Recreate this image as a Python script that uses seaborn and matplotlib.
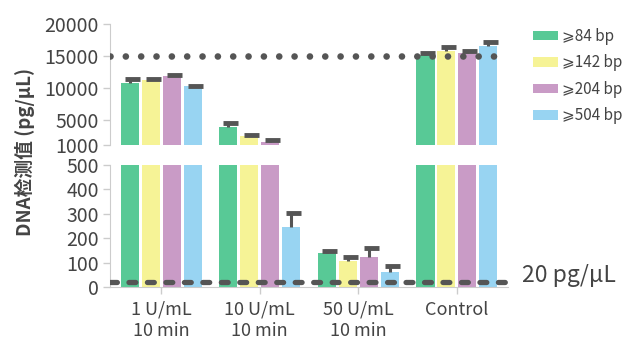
import matplotlib
matplotlib.use("Agg")
import matplotlib.pyplot as plt
import seaborn as sns
import pandas as pd
from matplotlib.patches import Patch

# ---------------- data ----------------
categories = ["1 U/mL\n10 min", "10 U/mL\n10 min", "50 U/mL\n10 min", "Control"]
series = ["⩾84 bp", "⩾142 bp", "⩾204 bp", "⩾504 bp"]
vals_84 = [10730, 3870, 140, 15130]
vals_142 = [11200, 2400, 106, 15800]
vals_204 = [11830, 1520, 121, 15400]
vals_504 = [10260, 245, 60, 16540]
err_84 = [670, 530, 8, 370]
err_142 = [200, 170, 16, 540]
err_204 = [110, 260, 38, 360]
err_504 = [40, 58, 25, 680]
top_ticks = [1000, 5000, 10000, 15000, 20000]
bottom_ticks = [0, 100, 200, 300, 400, 500]
upper_ref = 15000
lower_ref = 20
lower_ref_label = "20 pg/μL"
ylabel = "DNA检测值 (pg/μL)"
colors = ["#58C996", "#F6F396", "#C99BC6", "#98D4F2"]

values = [vals_84, vals_142, vals_204, vals_504]
errors = [err_84, err_142, err_204, err_504]

rows = []
for s, vs in zip(series, values):
    for c, v in zip(categories, vs):
        rows.append({"category": c, "series": s, "value": v})
df = pd.DataFrame(rows)

# ---------------- style ----------------
sns.set_style("white")
plt.rcParams['font.family'] = ['Noto Sans CJK SC', 'DejaVu Sans']
text_color = "#444444"
spine_color = "#cccccc"
mark_color = "#555555"

fig = plt.figure(figsize=(6.28, 3.5), dpi=100)
ax_top = fig.add_axes([0.1752, 0.5857, 0.6338, 0.3457])
ax_bot = fig.add_axes([0.1752, 0.18, 0.6338, 0.3486])

for ax in (ax_top, ax_bot):
    sns.barplot(data=df, x="category", y="value", hue="series",
                order=categories, hue_order=series, palette=colors,
                width=0.85, gap=0.13, errorbar=None, legend=False,
                saturation=1, linewidth=0, ax=ax)
    # error bars (upper only)
    for j, cont in enumerate(ax.containers):
        for i, bar in enumerate(cont):
            x = bar.get_x() + bar.get_width() / 2
            top = values[j][i]
            e = errors[j][i]
            ax.vlines(x, top, top + e, color=mark_color, lw=2.2, zorder=4)
            ax.hlines(top + e, x - 0.05, x + 0.1, color=mark_color, lw=3.5, zorder=4)
    ax.set_xlim(-0.52, 3.52)
    ax.set_xlabel("")
    ax.set_ylabel("")
    for sp in ["top", "right"]:
        ax.spines[sp].set_visible(False)
    ax.spines["left"].set_color(spine_color)
    ax.spines["bottom"].set_color(spine_color)
    ax.tick_params(axis="y", length=5, width=1, color=spine_color,
                   labelsize=14, labelcolor=text_color, pad=3, left=True)

# top panel
ax_top.set_ylim(top_ticks[0], top_ticks[-1])
ax_top.set_yticks(top_ticks)
ax_top.spines["bottom"].set_visible(False)
ax_top.tick_params(axis="x", bottom=False, labelbottom=False)
ax_top.axhline(upper_ref, color=mark_color, lw=4.8,
               linestyle=(0, (0.001, 2.3)), dash_capstyle="round", zorder=5)

# bottom panel
ax_bot.set_ylim(bottom_ticks[0], bottom_ticks[-1])
ax_bot.set_yticks(bottom_ticks)
ax_bot.tick_params(axis="x", length=5, width=1, color=spine_color,
                   labelsize=13, labelcolor=text_color, pad=5, bottom=True)
for lab in ax_bot.get_xticklabels():
    lab.set_linespacing(1.25)
ax_bot.axhline(lower_ref, color=mark_color, lw=3.8,
               linestyle=(0, (1.3, 2.2)), dash_capstyle="round", zorder=5)
ax_bot.annotate(lower_ref_label, xy=(1.0, lower_ref),
                xycoords=ax_bot.get_yaxis_transform(),
                xytext=(10, 5), textcoords="offset points",
                ha="left", va="center", fontsize=16.5, color=text_color)

# y label
fig.text(25 / 628, 1 - 152 / 350, ylabel, rotation=90, ha="center", va="center",
         fontsize=13.5, fontweight="bold", color=text_color)

# legend
handles = [Patch(facecolor=c, edgecolor="none") for c in colors]
fig.legend(handles, series, loc="upper left",
           bbox_to_anchor=(533 / 628, 1 - 28 / 350),
           frameon=False, fontsize=11, handlelength=1.63, handleheight=0.55,
           labelspacing=0.62, handletextpad=0.3, borderpad=0, borderaxespad=0,
           labelcolor=text_color)

fig.savefig("out.png", dpi=100)
